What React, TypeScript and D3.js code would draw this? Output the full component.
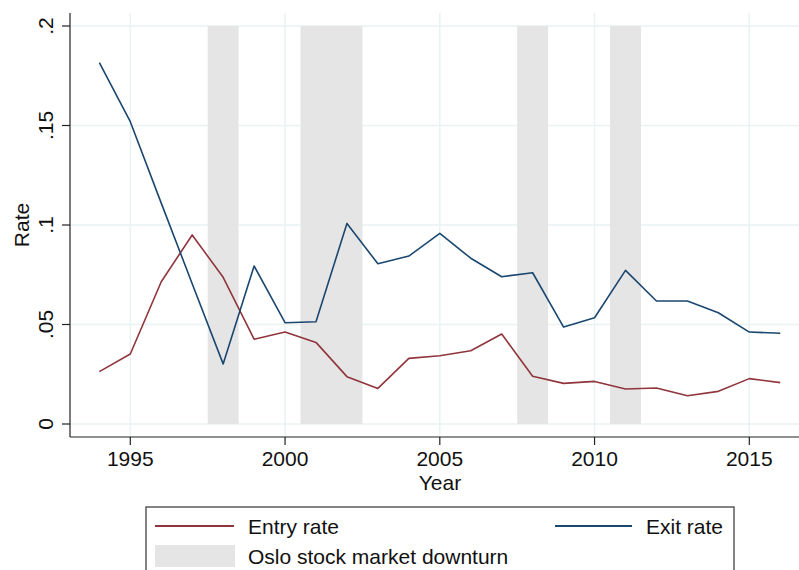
import React from "react";
import * as d3 from "d3";

const years = [1994,1995,1996,1997,1998,1999,2000,2001,2002,2003,2004,2005,2006,2007,2008,2009,2010,2011,2012,2013,2014,2015,2016];
const entryRate = [0.0263,0.0352,0.0715,0.0950,0.0737,0.0426,0.0462,0.0410,0.0238,0.0179,0.0330,0.0343,0.0368,0.0452,0.0240,0.0204,0.0214,0.0176,0.0181,0.0142,0.0164,0.0228,0.0208];
const exitRate = [0.1816,0.1519,0.1110,0.0705,0.0302,0.0794,0.0509,0.0514,0.1008,0.0805,0.0844,0.0958,0.0833,0.0740,0.0760,0.0487,0.0534,0.0772,0.0618,0.0618,0.0559,0.0462,0.0456];
const downturns: [number, number][] = [[1997.5,1998.5],[2000.5,2002.5],[2007.5,2008.5],[2010.5,2011.5]];
const xTicks = [1995,2000,2005,2010,2015];
const yTicks = [0,0.05,0.1,0.15,0.2];
const yTickLabels = ["0",".05",".1",".15",".2"];

const MAROON = "#90353b";
const NAVY = "#1a476f";
const SHADE = "#e5e5e5";
const GRID = "#eaf2f3";
const FONT = "'Liberation Sans', Arial, Helvetica, sans-serif";
const FS = 21;

export default function App() {
  const x = d3.scaleLinear().domain([1995, 2015]).range([130.3, 749.3]);
  const y = d3.scaleLinear().domain([0, 0.2]).range([424, 26]);
  const left = 70, right = 799, top = 13, bottom = 437;

  const line = d3.line<number>().x((_, i) => x(years[i])).y(d => y(d));

  return (
    <svg width={799} height={570} style={{ position: "absolute", left: 0, top: 0, background: "#fff" }} fontFamily={FONT}>
      <rect x={0} y={0} width={799} height={570} fill="#fff" />
      {/* gridlines */}
      {yTicks.map((t, i) => (
        <line key={"gy" + i} x1={left} x2={right} y1={y(t)} y2={y(t)} stroke={GRID} strokeWidth={1.5} />
      ))}
      {xTicks.map((t, i) => (
        <line key={"gx" + i} x1={x(t)} x2={x(t)} y1={top} y2={bottom} stroke={GRID} strokeWidth={1.5} />
      ))}
      {/* shaded downturns */}
      {downturns.map(([a, b], i) => (
        <rect key={"s" + i} x={x(a)} y={y(0.2)} width={x(b) - x(a)} height={y(0) - y(0.2)} fill={SHADE} />
      ))}
      {/* series */}
      <path d={line(entryRate) || ""} fill="none" stroke={MAROON} strokeWidth={1.6} strokeLinejoin="round" />
      <path d={line(exitRate) || ""} fill="none" stroke={NAVY} strokeWidth={1.6} strokeLinejoin="round" />
      {/* axes */}
      <line x1={left} x2={left} y1={top} y2={bottom} stroke="#222" strokeWidth={1.2} />
      <line x1={left} x2={right} y1={bottom} y2={bottom} stroke="#222" strokeWidth={1.2} />
      {yTicks.map((t, i) => (
        <g key={"ty" + i}>
          <line x1={left - 8} x2={left} y1={y(t)} y2={y(t)} stroke="#222" strokeWidth={1.2} />
          <text transform={`translate(53,${y(t)}) rotate(-90)`} textAnchor="middle" fontSize={FS} fill="#111">{yTickLabels[i]}</text>
        </g>
      ))}
      {xTicks.map((t, i) => (
        <g key={"tx" + i}>
          <line x1={x(t)} x2={x(t)} y1={bottom} y2={bottom + 8} stroke="#222" strokeWidth={1.2} />
          <text x={x(t)} y={465.5} textAnchor="middle" fontSize={FS} fill="#111">{t}</text>
        </g>
      ))}
      <text x={440} y={489.5} textAnchor="middle" fontSize={FS} fill="#111">Year</text>
      <text transform="translate(29,225) rotate(-90)" textAnchor="middle" fontSize={FS} fill="#111">Rate</text>
      {/* legend */}
      <rect x={146} y={507} width={588} height={80} fill="#fff" stroke="#333" strokeWidth={1.2} />
      <line x1={155} x2={234} y1={526} y2={526} stroke={MAROON} strokeWidth={2} />
      <text x={248} y={533.5} fontSize={FS} fill="#111">Entry rate</text>
      <line x1={555} x2={632} y1={526} y2={526} stroke={NAVY} strokeWidth={2} />
      <text x={646} y={533.5} fontSize={FS} fill="#111">Exit rate</text>
      <rect x={155} y={545} width={80} height={22} fill={SHADE} />
      <text x={248} y={563.5} fontSize={FS} fill="#111">Oslo stock market downturn</text>
    </svg>
  );
}
